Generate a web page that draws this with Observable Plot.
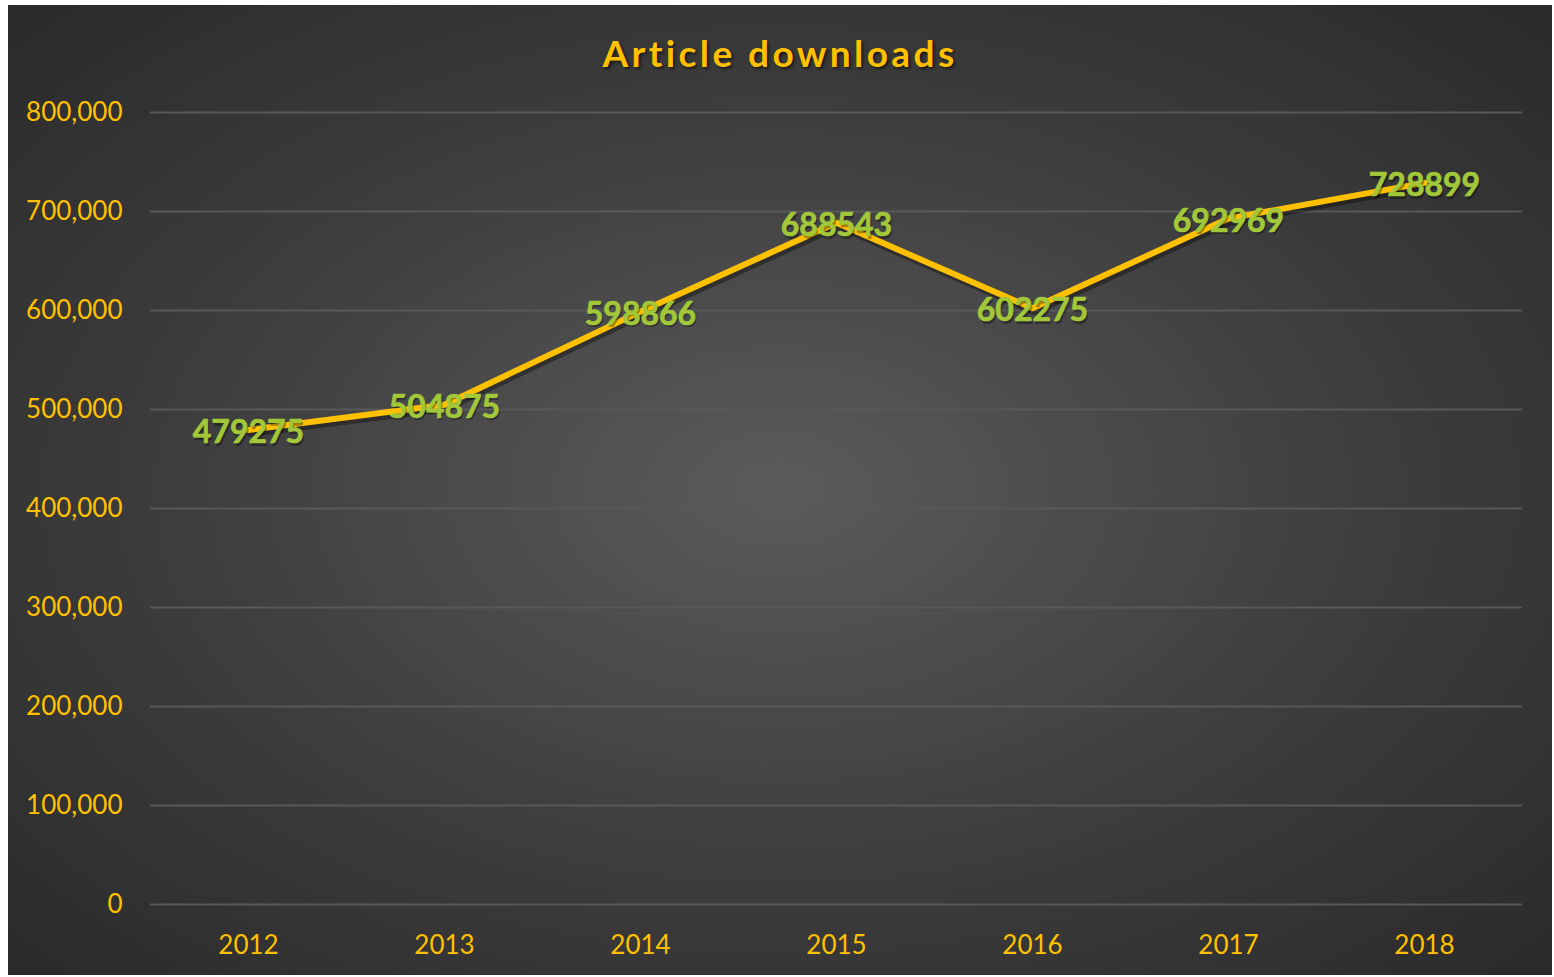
<!DOCTYPE html>
<html>
<head>
<meta charset="utf-8">
<script src="https://cdn.jsdelivr.net/npm/d3@7"></script>
<script src="https://cdn.jsdelivr.net/npm/@observablehq/plot@0.6"></script>
<style>
  html, body { margin: 0; padding: 0; background: #ffffff; }
  #box {
    position: absolute; left: 8px; top: 5px; width: 1544px; height: 970px;
    background: radial-gradient(ellipse 75% 75% at 50% 50%, #5b5b5b 0%, #3e3e3e 50%, #272727 100%);
    overflow: hidden;
  }
  #title {
    height: 95px; line-height: 96px; text-align: center;
    font-family: Lato, "Open Sans", sans-serif; font-weight: 700; font-size: 37px;
    letter-spacing: 3.4px; color: #FFC000;
    text-shadow: 2px 2px 3px rgba(0,0,0,0.55);
  }
  #chart { margin-top: -5px; }
  #chart svg { display: block; }
</style>
</head>
<body>
<div id="box">
  <div id="title">Article downloads</div>
  <div id="chart"></div>
</div>
<script>
const years = ["2012", "2013", "2014", "2015", "2016", "2017", "2018"];
const downloads = [479275, 504875, 598866, 688543, 602275, 692969, 728899];
const yTicks = [0, 100000, 200000, 300000, 400000, 500000, 600000, 700000, 800000];

const data = years.map((year, i) => ({year, value: downloads[i]}));

const chart = Plot.plot({
  width: 1544,
  height: 880,
  marginTop: 17,
  marginBottom: 71,
  marginLeft: 142,
  marginRight: 30,
  style: {
    background: "transparent",
    color: "#FFC000",
    fontFamily: "Lato, 'Open Sans', sans-serif",
    fontSize: "26px"
  },
  x: {
    type: "point",
    domain: years,
    padding: 0.5,
    tickSize: 0,
    tickPadding: 31,
    label: null
  },
  y: {
    domain: [0, 800000],
    ticks: yTicks,
    tickFormat: d3.format(","),
    tickSize: 0,
    tickPadding: 28,
    label: null
  },
  marks: [
    Plot.ruleY(yTicks, {stroke: "#585858", strokeWidth: 2}),
    Plot.lineY(data, {x: "year", y: "value", stroke: "#000000", strokeOpacity: 0.35, strokeWidth: 6, dx: 2, dy: 4}),
    Plot.lineY(data, {x: "year", y: "value", stroke: "#FFC000", strokeWidth: 6, strokeLinejoin: "round", strokeLinecap: "round"}),
    Plot.text(data, {x: "year", y: "value", text: d => String(d.value), fill: "#000000", fillOpacity: 0.35, fontSize: 32, fontWeight: "bold", dx: 1.5, dy: 5.5}),
    Plot.text(data, {x: "year", y: "value", text: d => String(d.value), fill: "#A2C83A", stroke: "#A2C83A", strokeWidth: 0.7, fontSize: 32, fontWeight: "bold", dy: 3})
  ]
});
document.getElementById("chart").appendChild(chart);
</script>
</body>
</html>
